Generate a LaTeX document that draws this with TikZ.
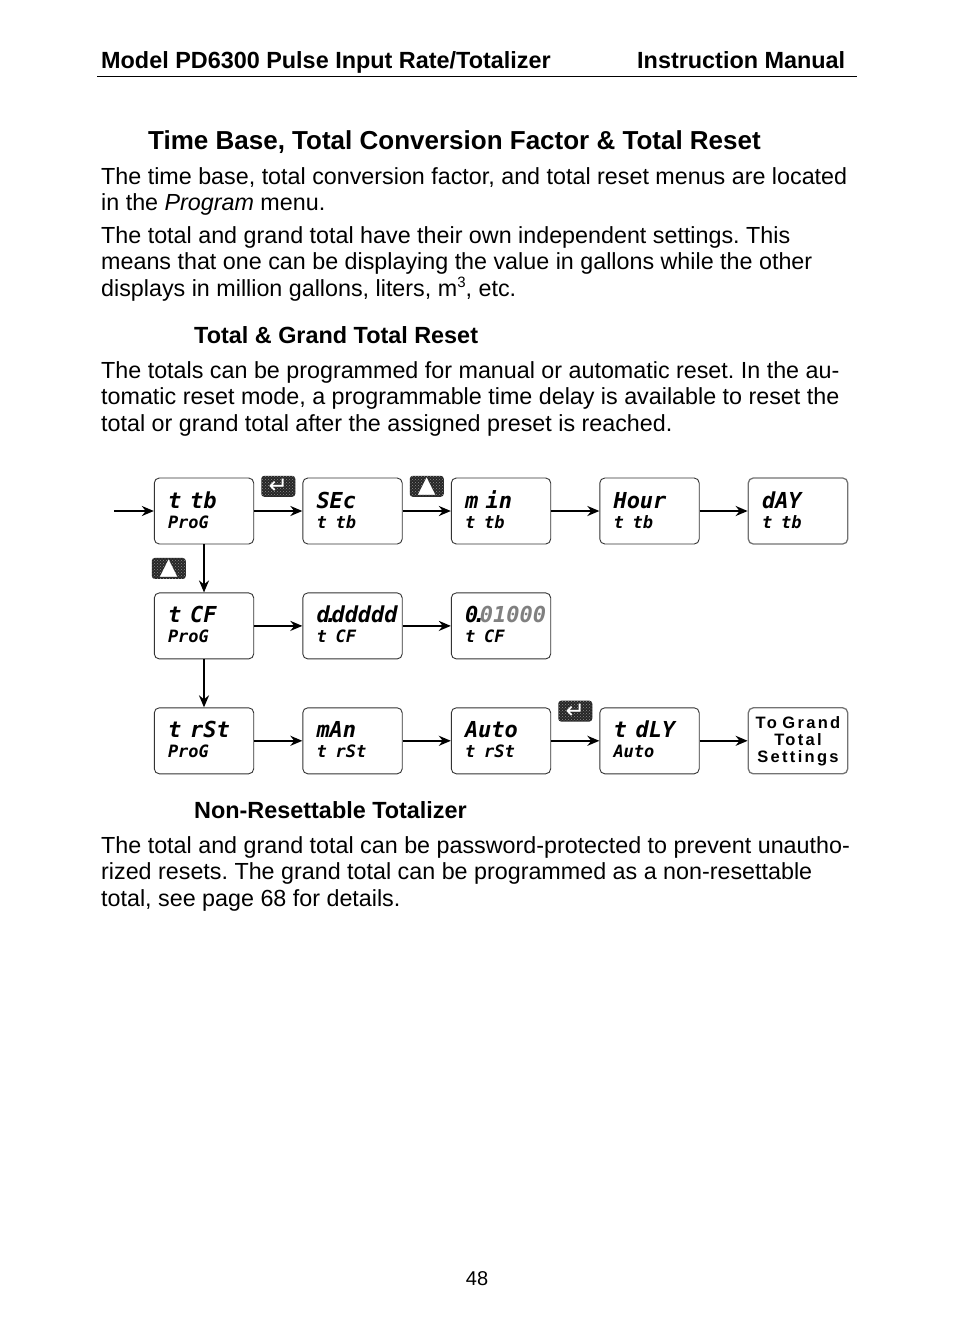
\documentclass[tikz,border=0pt]{standalone}
\usepackage{fontspec}
\setmainfont{Liberation Sans}
\newfontfamily\pdseg{DejaVu Sans Mono}
\newfontfamily\pdglyph{DejaVu Sans}
\newfontfamily\pdspaced[LetterSpace=14]{Liberation Sans}
\usepackage{xcolor}
\definecolor{pdline}{HTML}{333333}
\definecolor{pddim}{HTML}{808080}
\usetikzlibrary{arrows.meta,positioning,calc,patterns}
\tikzset{
  pdbox/.style={draw=pdline,line width=0.9pt,rounded corners=5pt,fill=white,minimum width=99.4pt,minimum height=66pt,inner sep=0pt,text width=96pt,align=left,font=\pdseg\bfseries\itshape\fontsize{22}{20}\selectfont},
  pdlast/.style={pdbox,draw=black!55,line width=1.3pt},
  pdkey/.style={rounded corners=3pt,minimum width=34pt,minimum height=21pt,inner sep=0pt,text=white,preaction={fill=black!85},pattern=crosshatch dots,pattern color=black!45,font=\pdglyph\fontsize{23}{21}\selectfont},
  pdflow/.style={-{Stealth[length=12pt,width=10pt]},line width=2pt},
  pdbody/.style={anchor=north west,inner sep=0pt,align=left,font=\fontsize{23.3}{26.8}\selectfont},
  pdhead/.style={anchor=north west,inner sep=0pt,align=left,font=\bfseries\fontsize{23.4}{26.8}\selectfont},
}
\newcommand{\pdshow}[2]{\hspace*{12pt}\rule{0pt}{18pt}#1\\\hspace*{12pt}\rule[-4pt]{0pt}{4pt}{\fontsize{17}{20}\selectfont #2}}
\newcommand{\pdgap}{\hspace{9pt}}
\newcommand{\pddot}{\kern-5.5pt.\kern-6pt}
\frenchspacing

\begin{document}
\begin{tikzpicture}[x=1pt,y=-1pt,node distance=48pt and 48.2pt]
\useasboundingbox[fill=white] (0,0) rectangle (954,1336);
 % page text
\node[pdhead] (model) at (101,51){Model PD6300 Pulse Input Rate/Totalizer};
\node[pdhead] (manual) at (637,51){Instruction Manual};
\coordinate (rulea) at (97,76);
\coordinate (ruleb) at (857,76);
\draw[line width=0.9pt](rulea)--(ruleb);
\node[pdhead,font=\bfseries\fontsize{26}{30}\selectfont] (title) at (148,130){Time Base, Total Conversion Factor \& Total Reset};
\node[pdbody] (para1) at (101,167){The time base, total conversion factor, and total reset menus are located\\in the \textit{Program} menu.};
\node[pdbody] (para2) at (101,226){The total and grand total have their own independent settings. This\\means that one can be displaying the value in gallons while the other\\displays in million gallons, liters, m\raisebox{9pt}{\fontsize{15}{15}\selectfont 3}, etc.};
\node[pdhead] (reset) at (194,326.5){Total \& Grand Total Reset};
\node[pdbody] (para3) at (101,361){The totals can be programmed for manual or automatic reset. In the au-\\tomatic reset mode, a programmable time delay is available to reset the\\total or grand total after the assigned preset is reached.};
\node[pdhead] (nonres) at (194,801){Non-Resettable Totalizer};
\node[pdbody] (para4) at (101,836){The total and grand total can be password-protected to prevent unautho-\\rized resets. The grand total can be programmed as a non-resettable\\total, see page 68 for details.};
\node[anchor=base,inner sep=0pt,font=\fontsize{20}{24}\selectfont] (pageno) at (477,1285){48};
 % displays
\node[pdbox] (ttb) at (204,511){\pdshow{t\pdgap tb}{ProG}};
\node[pdbox,right=of ttb] (sec){\pdshow{SEc}{t\pdgap tb}};
\node[pdbox,right=of sec] (min){\pdshow{m in}{t\pdgap tb}};
\node[pdbox,right=of min] (hour){\pdshow{Hour}{t\pdgap tb}};
\node[pdlast,right=of hour,xshift=-0.2pt] (day){\pdshow{dAY}{t\pdgap tb}};
\node[pdbox,below=of ttb] (tcf){\pdshow{t\pdgap CF}{ProG}};
\node[pdbox,right=of tcf] (ddd){\pdshow{d\pddot ddddd}{t\pdgap CF}};
\node[pdbox,right=of ddd] (val){\pdshow{0\pddot\textcolor{pddim}{01000}}{t\pdgap CF}};
\node[pdbox,below=of tcf] (trst){\pdshow{t\pdgap rSt}{ProG}};
\node[pdbox,right=of trst] (man){\pdshow{mAn}{t\pdgap rSt}};
\node[pdbox,right=of man] (auto){\pdshow{Auto}{t\pdgap rSt}};
\node[pdbox,right=of auto] (tdly){\pdshow{t\pdgap dLY}{Auto}};
\node[pdlast,right=of tdly,xshift=-0.2pt,align=center,font=\pdspaced\bfseries\fontsize{16.5}{17}\selectfont] (grand){To Grand\\Total\\Settings};
 % keys
\node[pdkey,above=14pt of $(ttb.east)!.5!(sec.west)$] (enterA){↵};
\node[pdkey,above=14pt of $(sec.east)!.5!(min.west)$] (upA){▲};
\node[pdkey,left=18pt of $(ttb.south)!.5!(tcf.north)$] (upB){▲};
\node[pdkey,above=19pt of $(auto.east)!.5!(tdly.west)$] (enterB){↵};
 % flow
\coordinate (start) at (114,511);
\draw[pdflow](start)--(ttb);
\draw[pdflow](ttb)--(sec);
\draw[pdflow](sec)--(min);
\draw[pdflow](min)--(hour);
\draw[pdflow](hour)--(day);
\draw[pdflow](ttb)--(tcf);
\draw[pdflow](tcf)--(ddd);
\draw[pdflow](ddd)--(val);
\draw[pdflow](tcf)--(trst);
\draw[pdflow](trst)--(man);
\draw[pdflow](man)--(auto);
\draw[pdflow](auto)--(tdly);
\draw[pdflow](tdly)--(grand);
\end{tikzpicture}
\end{document}
